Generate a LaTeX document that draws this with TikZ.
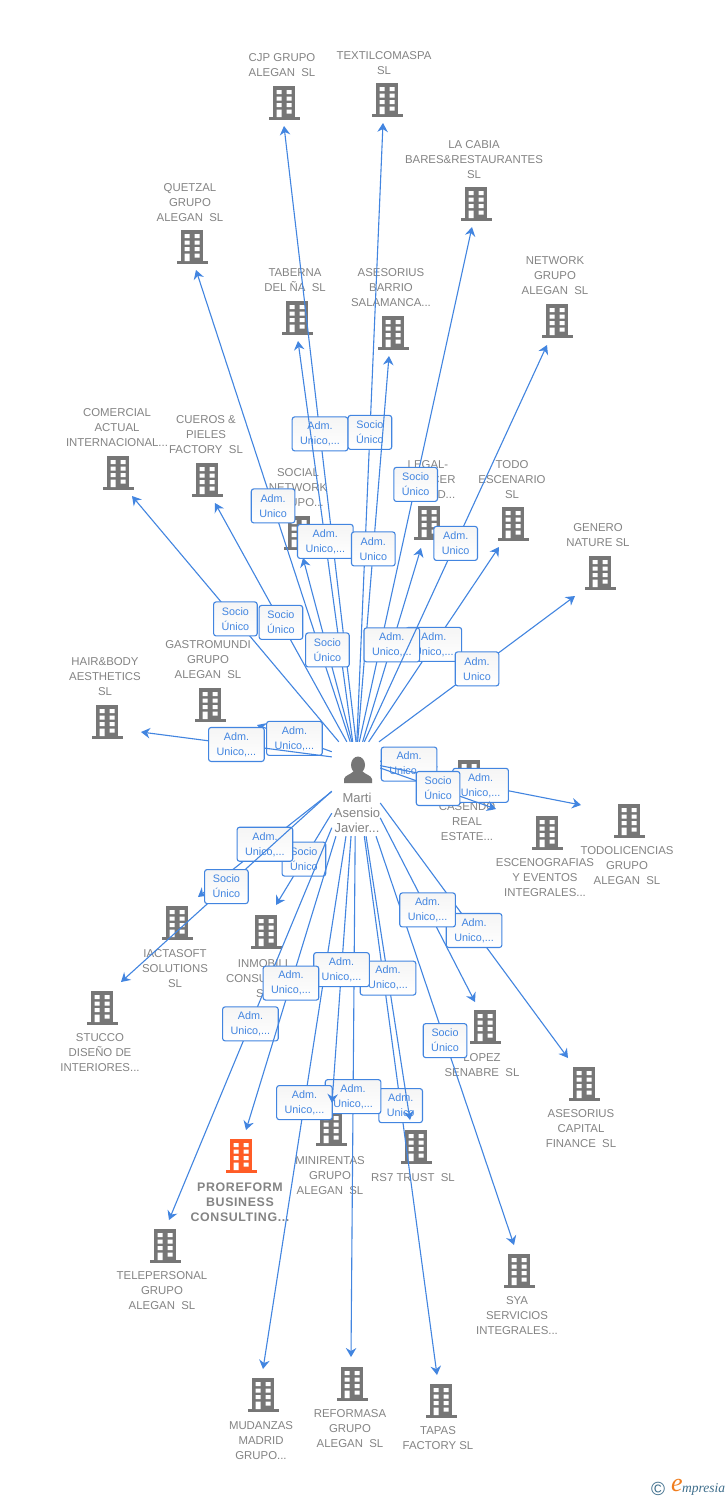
\documentclass[tikz,border=0pt]{standalone}
\usepackage{fontspec}
\setmainfont{Liberation Sans}
\newfontfamily\proreformfont[LetterSpace=5]{Liberation Sans}
\newfontfamily\logofont{Liberation Serif}
\usetikzlibrary{arrows.meta}
\definecolor{linkblue}{RGB}{66,133,224}
\definecolor{iconcolor}{RGB}{118,118,118}
\definecolor{labelcolor}{RGB}{132,132,132}
\definecolor{firmorange}{RGB}{255,92,38}
\definecolor{logoblue}{RGB}{62,110,140}
\definecolor{logoorange}{RGB}{240,125,30}
\tikzset{
	link/.style={draw=linkblue, line width=1.1pt, -{Stealth[length=9pt, width=10.5pt, inset=3pt]}},
	tagbox/.style={shade, top color=black!4, bottom color=white, draw=linkblue, line width=1.1pt, rounded corners=2.5pt, text=linkblue, align=center, inner xsep=8pt, inner ysep=0pt, minimum height=34pt, font=\fontsize{10.8}{15}\selectfont},
	firmlabel/.style={text=labelcolor, align=center, inner sep=0pt, yshift=-1pt, font=\fontsize{11.4}{15}\selectfont},
	firm/.pic={
		\fill[pic actions] (-11,-17) rectangle (11,14);
		\fill[pic actions] (-15.5,14) rectangle (15.5,17);
		\foreach \wy in {-13,-6.5,0}
			\fill[white] (-7.5,\wy) rectangle +(5,4) (2.5,\wy) rectangle +(5,4);
		\fill[white] (-7.5,6.5) rectangle (-2.5,14) (2.5,6.5) rectangle (7.5,10.5);
	}
}
\newcommand{\soc}{Socio\\Único}
\newcommand{\adm}{Adm.\\Unico}
\newcommand{\admm}{Adm.\\Unico,...}
\begin{document}
\begin{tikzpicture}[x=1pt, y=-1pt]
	\useasboundingbox (0,0) rectangle (728,1500);
	\fill[white] (0,0) rectangle (728,1500);
	\foreach \key/\bx/\by/\ex/\ey/\lx/\ly/\txt in {
		cjp/284/103/284/126/282/64.5/{CJP GRUPO\\ALEGAN\ \ SL},
		textil/387/100/383/123/384/62.5/{TEXTILCOMASPA\\SL},
		cabia/476/204/472/227/474/159/{LA CABIA\\BARES\&RESTAURANTES\\SL},
		quetzal/192/247/196/270/190/202/{QUETZAL\\GRUPO\\ALEGAN\ \ SL},
		taberna/297/318/298/341/295/279.5/{TABERNA\\DEL ÑA\ \ SL},
		barrio/393/333/389/356/391/287/{ASESORIUS\\BARRIO\\SALAMANCA...},
		network/557/321/547/345/555/275/{NETWORK\\GRUPO\\ALEGAN\ \ SL},
		comercial/118/473/132/496/117/427/{COMERCIAL\\ACTUAL\\INTERNACIONAL...},
		cueros/207/480/215/503/206/434/{CUEROS \&\\PIELES\\FACTORY\ \ SL},
		social/299/533/303/558/298/487/{SOCIAL\\NETWORK\\GRUPO...},
		legal/429/523/421/548/428/479/{LEGAL-\\SPENCER\\LIMITED...},
		todo/513/524/499/547/512/479/{TODO\\ESCENARIO\\SL},
		genero/600/573/575/596/598/534.5/{GENERO\\NATURE SL},
		gastro/210/705/257/725/208/659/{GASTROMUNDI\\GRUPO\\ALEGAN\ \ SL},
		hair/107/722/141/732/105/676/{HAIR\&BODY\\AESTHETICS\\SL},
		casendo/469/777/438/767/467/821/{CASENDO\\REAL\\ESTATE...},
		escen/547/833/496/809/545/877/{ESCENOGRAFIAS\\Y EVENTOS\\INTEGRALES...},
		todolic/629/821/581/805/627/865/{TODOLICENCIAS\\GRUPO\\ALEGAN\ \ SL},
		capital/584/1084/568/1058/581/1128/{ASESORIUS\\CAPITAL\\FINANCE\ \ SL},
		lopez/485/1027/475/1002/482/1064.5/{LOPEZ\\SENABRE\ \ SL},
		sya/519/1271/514/1245/517/1315/{SYA\\SERVICIOS\\INTEGRALES...},
		rstrust/416/1147/410/1120/413/1177/{RS7 TRUST\ \ SL},
		minirentas/331/1129/332/1103/330/1175/{MINIRENTAS\\GRUPO\\ALEGAN\ \ SL},
		telepersonal/165/1246/169/1220/162/1290/{TELEPERSONAL\\GRUPO\\ALEGAN\ \ SL},
		mudanzas/263/1395/263/1369/261/1440/{MUDANZAS\\MADRID\\GRUPO...},
		reformasa/352/1384/351/1357/350/1428/{REFORMASA\\GRUPO\\ALEGAN\ \ SL},
		tapas/441/1401/437/1375/438/1437.5/{TAPAS\\FACTORY SL},
		inmobili/266/932/276/905/263/978/{INMOBILI\\CONSULTING\\SL},
		iacta/177/923/198/897/175/968/{IACTASOFT\\SOLUTIONS\\SL},
		stucco/102/1008/121/982/100/1052/{STUCCO\\DISEÑO DE\\INTERIORES...}}
	{
		\pic[fill=iconcolor] at (\bx,\by) {firm};
		\coordinate (\key) at (\ex,\ey);
		\node[firmlabel] (\key-label) at (\lx,\ly) {\txt};
	}
	\pic[fill=firmorange] at (241,1156) {firm};
	\coordinate (proreform) at (246,1130);
	\node[firmlabel, font=\fontsize{12.4}{15}\bfseries\proreformfont] (proreform-label) at (240,1201) {PROREFORM\\BUSINESS\\CONSULTING...};
	\node[minimum width=48pt, minimum height=94pt, inner sep=0pt] (person) at (356,789) {};
	\fill[iconcolor] (358,765) ellipse (7 and 8.5);
	\fill[iconcolor] (344,783) -- (344,779) .. controls (345,775) and (350,775) .. (354,771) -- (362,771) .. controls (366,775) and (371,775) .. (372,779) -- (372,783) -- cycle;
	\node[firmlabel, font=\fontsize{13}{15}\selectfont] (person-label) at (357,811.5) {Marti\\Asensio\\Javier...};
	\foreach \key/\ang/\role in {
		comercial/110/\soc, cueros/101/\soc, quetzal/97/\adm, cjp/90/\admm,
		taberna/94/\admm, social/95/\soc, textil/89/\soc, barrio/88/\adm,
		cabia/86/\soc, todo/75/\admm, legal/82/\admm, network/80/\adm,
		genero/64/\adm, gastro/123/\admm, hair/127/\admm, casendo/49/\admm,
		todolic/44/\admm, escen/41/\soc, inmobili/225/\soc, iacta/186/\admm,
		stucco/185/\soc, telepersonal/238/\admm, tapas/280/\adm, rstrust/282/\admm,
		reformasa/269/\admm, mudanzas/258/\admm, minirentas/264/\admm, proreform/247/\admm,
		sya/293/\soc, capital/330/\admm, lopez/310/\admm}
		\draw[link] (person.\ang) -- node[tagbox] (\key-tag) {\role} (\key);
	\node[text=logoblue, inner sep=0pt, font=\fontsize{19}{19}\selectfont] (copymark) at (658,1489) {©};
	\node[text=logoorange, inner sep=0pt, font=\fontsize{26}{26}\logofont\itshape] (logoe) at (677,1485) {e};
	\node[text=logoblue, inner sep=0pt, anchor=west, font=\fontsize{13.5}{13.5}\logofont\itshape] (logotext) at (682,1489) {mpresia};
\end{tikzpicture}
\end{document}
